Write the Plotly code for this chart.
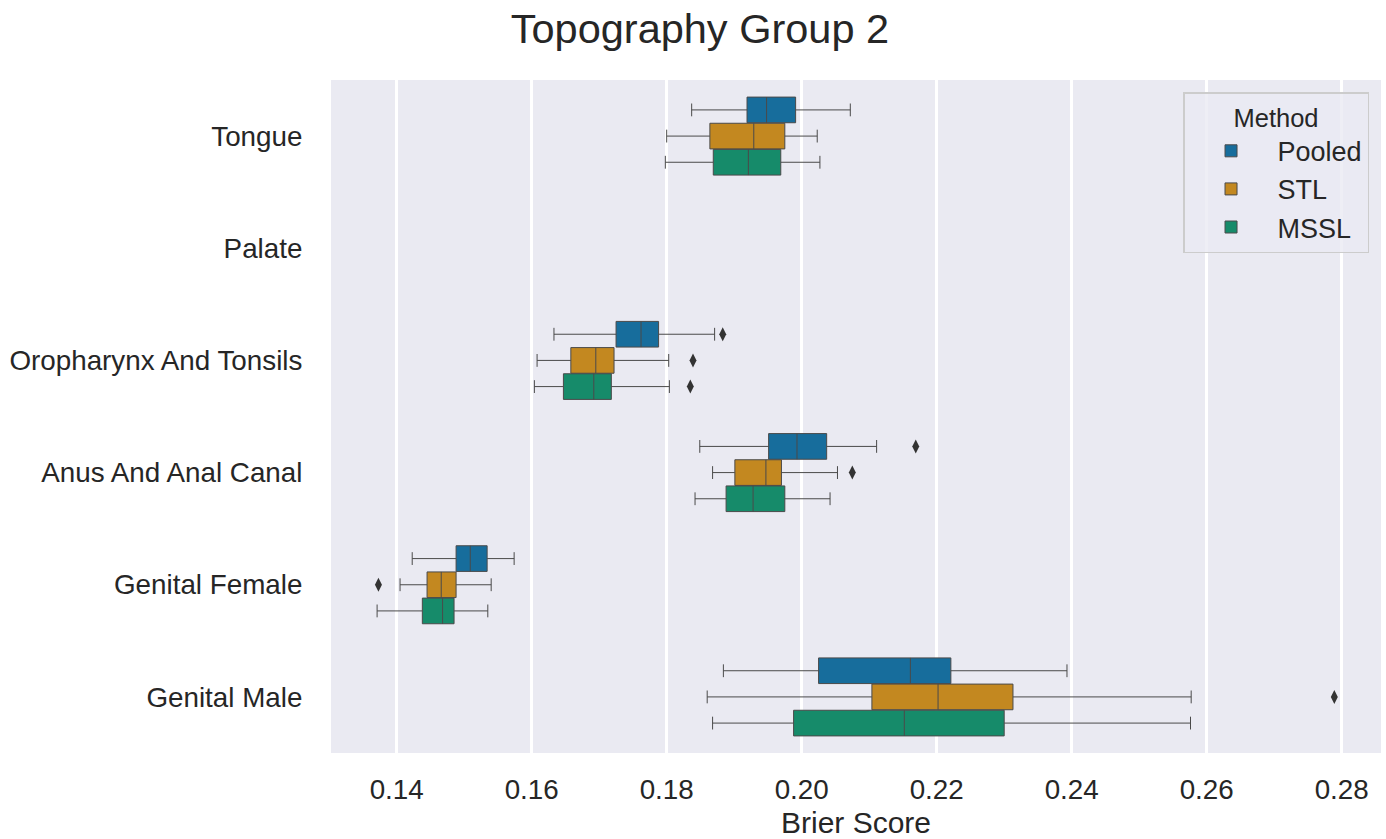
import plotly.graph_objects as go

categories = ["Tongue", "Palate", "Oropharynx And Tonsils", "Anus And Anal Canal",
              "Genital Female", "Genital Male"]
box_cats = ["Tongue", "Oropharynx And Tonsils", "Anus And Anal Canal",
            "Genital Female", "Genital Male"]
methods = ["Pooled", "STL", "MSSL"]

pooled_low = [0.1837, 0.1633, 0.1849, 0.1423, 0.1884]
pooled_q1 = [0.1919, 0.1725, 0.1951, 0.1488, 0.2025]
pooled_med = [0.1948, 0.1762, 0.1993, 0.1509, 0.2161]
pooled_q3 = [0.1991, 0.1788, 0.2037, 0.1534, 0.2221]
pooled_high = [0.2072, 0.1871, 0.2111, 0.1574, 0.2393]
pooled_out = [[], [0.1883], [0.2169], [], []]

stl_low = [0.1800, 0.1608, 0.1868, 0.1405, 0.1860]
stl_q1 = [0.1864, 0.1658, 0.1901, 0.1445, 0.2104]
stl_med = [0.1929, 0.1695, 0.1947, 0.1466, 0.2202]
stl_q3 = [0.1975, 0.1722, 0.1970, 0.1488, 0.2313]
stl_high = [0.2023, 0.1803, 0.2053, 0.1540, 0.2577]
stl_out = [[], [0.1839], [0.2075], [0.1373], [0.2789]]

mssl_low = [0.1798, 0.1604, 0.1842, 0.1371, 0.1868]
mssl_q1 = [0.1869, 0.1647, 0.1888, 0.1438, 0.1988]
mssl_med = [0.1921, 0.1692, 0.1928, 0.1468, 0.2152]
mssl_q3 = [0.1969, 0.1718, 0.1975, 0.1485, 0.2300]
mssl_high = [0.2027, 0.1804, 0.2042, 0.1535, 0.2576]
mssl_out = [[], [0.1835], [], [], []]

x_ticks = [0.14, 0.16, 0.18, 0.20, 0.22, 0.24, 0.26, 0.28]

colors = ["#176d9c", "#c38820", "#168b6a"]
stats = [
    (pooled_low, pooled_q1, pooled_med, pooled_q3, pooled_high, pooled_out),
    (stl_low, stl_q1, stl_med, stl_q3, stl_high, stl_out),
    (mssl_low, mssl_q1, mssl_med, mssl_q3, mssl_high, mssl_out),
]

FONT = "Liberation Sans, Arial, sans-serif"
TXT = "#262626"
BOXGAP = 0.3
slot = (1 - BOXGAP) / len(methods)

fig = go.Figure()
for k, (name, col, (lo, q1, med, q3, hi, out)) in enumerate(zip(methods, colors, stats)):
    fig.add_trace(go.Box(
        name=name, orientation="h", y=box_cats,
        lowerfence=lo, q1=q1, median=med, q3=q3, upperfence=hi,
        fillcolor=col, line=dict(color="#4a4a4a", width=1),
        whiskerwidth=0.5, boxpoints=False,
        hoverinfo="skip",
    ))
    # outliers drawn on an overlaying numeric axis that mirrors the category axis
    ox, oy = [], []
    for cat, vals in zip(box_cats, out):
        for v in vals:
            ox.append(v)
            oy.append(categories.index(cat) + (k - 1) * slot)
    fig.add_trace(go.Scatter(
        x=ox, y=oy, yaxis="y2", mode="markers", showlegend=False,
        marker=dict(symbol="diamond-tall", size=10, color="#333333",
                    line=dict(width=0)),
        hoverinfo="skip",
    ))

fig.update_layout(
    width=1386, height=839,
    margin=dict(l=331, r=5, t=80, b=86),
    paper_bgcolor="white", plot_bgcolor="#EAEAF2",
    boxmode="group", boxgap=BOXGAP, boxgroupgap=0.02,
    font=dict(family=FONT, color=TXT, size=27.8),
    title=dict(text="Topography Group 2", x=0.505, xref="container",
               y=0.966, yref="container", yanchor="middle",
               font=dict(size=41.5, family=FONT, color=TXT)),
    legend=dict(title=dict(text="Method", side="top center",
                           font=dict(size=25.5, family=FONT, color=TXT)),
                font=dict(size=27, family=FONT, color=TXT),
                itemwidth=83,
                x=0.9886, xanchor="right", y=0.982, yanchor="top",
                bgcolor="rgba(234,234,242,0.8)", bordercolor="#cccccc",
                borderwidth=1.5),
    showlegend=True,
    yaxis2=dict(overlaying="y", range=[5.5, -0.5], visible=False,
                showgrid=False, zeroline=False),
)
fig.update_xaxes(type="linear", range=[0.13027, 0.28582], tickvals=x_ticks,
                 tickformat=".2f", automargin=False,
                 showgrid=True, gridcolor="white", gridwidth=2.5,
                 zeroline=False, showline=False,
                 ticks="outside", ticklen=12, tickcolor="rgba(0,0,0,0)",
                 tickfont=dict(size=27.8, family=FONT, color=TXT),
                 title=dict(text="Brier Score", standoff=11,
                            font=dict(size=30, family=FONT, color=TXT)))
fig.layout.yaxis.update(type="category", categoryorder="array",
                        categoryarray=categories, automargin=False,
                        range=[5.5, -0.5], showgrid=False, zeroline=False,
                        showline=False, ticks="outside", ticklen=22,
                        tickcolor="rgba(0,0,0,0)",
                        tickfont=dict(size=27.8, family=FONT, color=TXT))

fig.write_html("out.html")
